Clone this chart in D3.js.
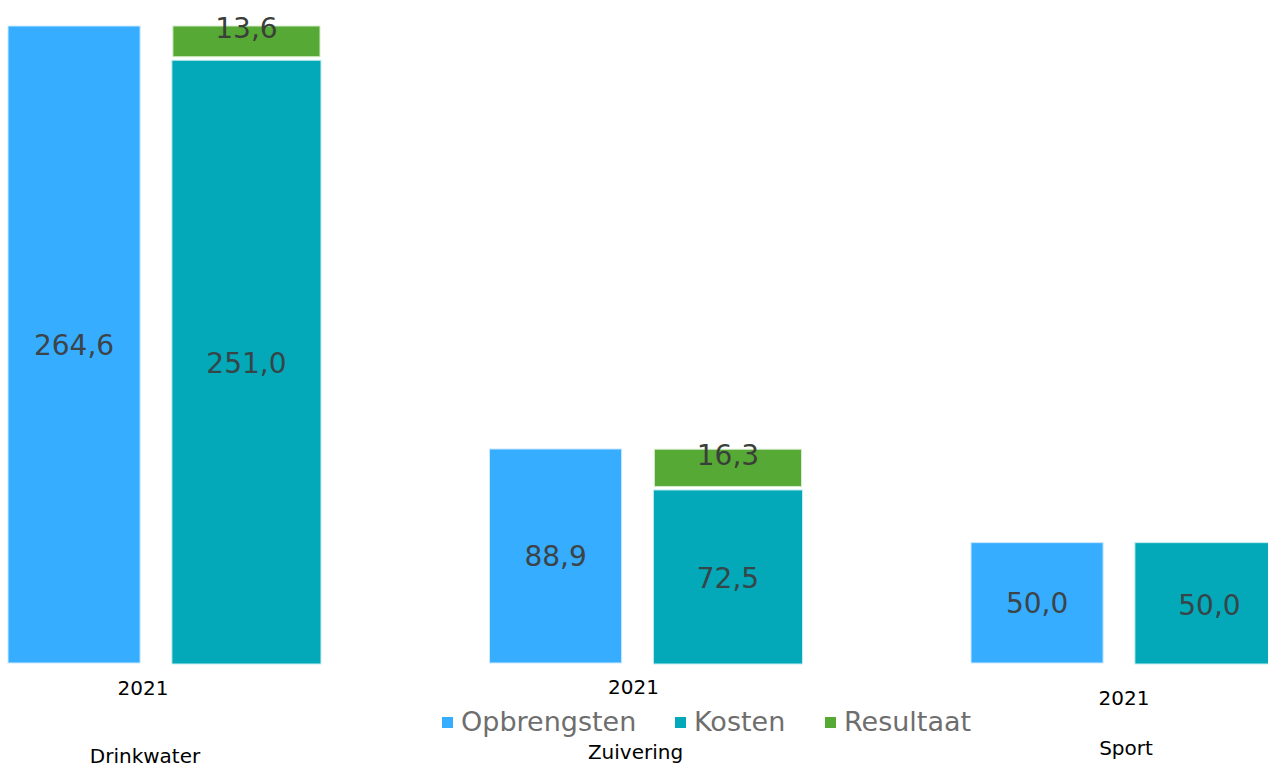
<html>

<head>
    <title>Opbrengsten en kosten 2021</title>
    <script src="https://d3js.org/d3.v7.min.js"></script>
    <style>
        body { margin: 0; background: #fff; }
        text { font-family: "DejaVu Sans", Verdana, sans-serif; }
    </style>
</head>

<body>
    <script>
        // data
        const categories = ['Drinkwater', 'Zuivering', 'Sport']
        const yearLabel = '2021'
        const series = ['Opbrengsten', 'Kosten', 'Resultaat']
        const opbrengsten = [264.6, 88.9, 50.0]
        const kosten = [251.0, 72.5, 50.0]
        const resultaat = [13.6, 16.3, 0]

        const colors = {
            Opbrengsten: '#36adff',
            Kosten: '#03a9b8',
            Resultaat: '#56a934'
        }

        const width = 1268, height = 767
        const baseline = 663

        // small per-panel label offsets (the panels are not quite aligned in the original)
        const yearDx = [135, 144, 153]
        const yearY = [695, 694, 705]
        const catY = [763, 759, 755]

        const fmt = v => d3.format('.1f')(v).replace('.', ',')

        const svg = d3.select('body').append('svg')
            .attr('width', width)
            .attr('height', height)

        const xPanel = d3.scaleBand()
            .domain(categories)
            .range([8, 8 + 3 * 481.5])

        const xInner = d3.scaleBand()
            .domain(['Opbrengsten', 'Kosten'])
            .range([0, 313])
            .paddingInner(0.2)

        const y = d3.scaleLinear()
            .domain([0, 264.6])
            .range([baseline, 26])

        const bw = xInner.bandwidth()

        categories.forEach(function(cat, i) {
            const g = svg.append('g')
                .attr('transform', 'translate(' + xPanel(cat) + ',0)')

            // Opbrengsten
            const ox = xInner('Opbrengsten')
            const ow = bw - 7
            g.append('rect')
                .attr('x', ox)
                .attr('y', y(opbrengsten[i]))
                .attr('width', ow)
                .attr('height', y(0) - y(opbrengsten[i]))
                .attr('fill', colors.Opbrengsten)
                .attr('stroke', '#cbe9ff')
                .attr('stroke-width', 1)
            g.append('text')
                .attr('x', ox + ow / 2)
                .attr('y', (y(opbrengsten[i]) + y(0)) / 2)
                .attr('dy', '0.36em')
                .attr('text-anchor', 'middle')
                .attr('font-size', 28)
                .attr('fill', '#3c4448')
                .text(fmt(opbrengsten[i]))

            // Kosten + Resultaat stacked
            const kx = xInner('Kosten') - 10
            const kw = bw + 10
            const gap = resultaat[i] > 0 ? 1.5 : 0
            g.append('rect')
                .attr('x', kx)
                .attr('y', y(kosten[i]) + gap)
                .attr('width', kw)
                .attr('height', y(0) - y(kosten[i]) - gap + 1)
                .attr('fill', colors.Kosten)
                .attr('stroke', '#c5eef2')
                .attr('stroke-width', 1)
            g.append('text')
                .attr('x', kx + kw / 2)
                .attr('y', (y(kosten[i]) + y(0)) / 2 + 2)
                .attr('dy', '0.36em')
                .attr('text-anchor', 'middle')
                .attr('font-size', 28)
                .attr('fill', '#354548')
                .text(fmt(kosten[i]))

            if (resultaat[i] > 0) {
                const top = y(kosten[i] + resultaat[i])
                const bot = y(kosten[i])
                g.append('rect')
                    .attr('x', kx + 1)
                    .attr('y', top)
                    .attr('width', kw - 2)
                    .attr('height', bot - top - 2)
                    .attr('fill', colors.Resultaat)
                    .attr('stroke', '#d6eccd')
                    .attr('stroke-width', 1)
                g.append('text')
                    .attr('x', kx + kw / 2)
                    .attr('y', (top + bot) / 2 - 14)
                    .attr('dy', '0.36em')
                    .attr('text-anchor', 'middle')
                    .attr('font-size', 28)
                    .attr('fill', '#3a3f3a')
                    .text(fmt(resultaat[i]))
            }

            // year and category labels
            g.append('text')
                .attr('x', yearDx[i])
                .attr('y', yearY[i])
                .attr('text-anchor', 'middle')
                .attr('font-size', 20)
                .attr('fill', '#000')
                .text(yearLabel)

            g.append('text')
                .attr('x', yearDx[i] + 2)
                .attr('y', catY[i])
                .attr('text-anchor', 'middle')
                .attr('font-size', 20)
                .attr('fill', '#000')
                .text(cat)
        })

        // legend
        const legendX = [442, 675, 825]
        const legend = svg.append('g')
        series.forEach(function(s, i) {
            legend.append('rect')
                .attr('x', legendX[i])
                .attr('y', 717)
                .attr('width', 11)
                .attr('height', 11)
                .attr('fill', colors[s])
            legend.append('text')
                .attr('x', legendX[i] + 19)
                .attr('y', 731)
                .attr('font-size', 27)
                .attr('fill', '#6e6e6e')
                .text(s)
        })
    </script>
</body>

</html>
